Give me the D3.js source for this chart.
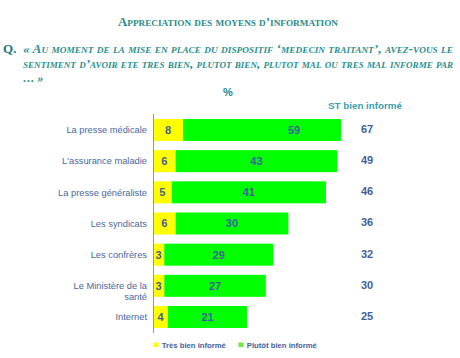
<!DOCTYPE html>
<html><head><meta charset="utf-8">
<script src="https://cdn.jsdelivr.net/npm/d3@7"></script>
<style>body{margin:0;background:#fff;}svg{display:block;}</style>
</head><body>
<script>
const categories = ["La presse médicale","L'assurance maladie","La presse généraliste","Les syndicats","Les confrères","Le Ministère de la santé","Internet"];
const tresBien = [8,6,5,6,3,3,4];
const plutotBien = [59,43,41,30,29,27,21];
const stBien = [67,49,46,36,32,30,25];
const seriesNames = ["Très bien informé","Plutôt bien informé"];
const seriesColors = ["#ffff00","#00ff00"];
const legendColors = ["#ffff00","#66ee33"];

const W=460,H=358;
const svg=d3.select("body").append("svg").attr("width",W).attr("height",H);

const teal="#2a8c8c", blue="#3f5f9c", lab="#4a679f";

// title
svg.append("text").attr("x",228).attr("y",26).attr("text-anchor","middle")
  .attr("font-family","Liberation Serif").attr("font-weight","bold").attr("font-size",12.5)
  .attr("fill",teal).style("font-variant","small-caps")
  .attr("textLength",220).attr("lengthAdjust","spacingAndGlyphs")
  .text("Appreciation des moyens d’information");

svg.append("text").attr("x",3).attr("y",53).attr("font-family","Liberation Serif").attr("font-weight","bold")
  .attr("font-size",13).attr("fill","#1f7a80").text("Q.");
const qLines=["« Au moment de la mise en place du dispositif ‘medecin traitant’, avez-vous le",
  "sentiment d’avoir ete tres bien, plutot bien, plutot mal ou tres mal informe par",
  "… »"];
qLines.forEach((s,i)=>{
  const e=svg.append("text").attr("x",23).attr("y",53+i*14.5).attr("font-family","Liberation Serif")
   .attr("font-weight","bold").attr("font-style","italic").attr("font-size",11.5).attr("fill","#2a9090")
   .style("font-variant","small-caps").text(s);
  if(i<2) e.attr("textLength",430).attr("lengthAdjust","spacingAndGlyphs");
});

svg.append("text").attr("x",228).attr("y",96).attr("text-anchor","middle").attr("font-family","Liberation Sans")
  .attr("font-weight","bold").attr("font-size",11).attr("fill","#2a7f85").text("%");
svg.append("text").attr("x",365).attr("y",108.5).attr("text-anchor","middle").attr("font-family","Liberation Sans")
  .attr("font-weight","bold").attr("font-size",9.8).attr("fill","#3aa0ae").text("ST bien informé");

const x=d3.scaleLinear().domain([0,50]).range([153,341]).clamp(true);
const xu=d3.scaleLinear().domain([0,50]).range([153,341]);
const y=d3.scaleBand().domain(categories).range([119,328]).paddingInner(0.294).paddingOuter(0);

const g=svg.append("g");
categories.forEach((c,i)=>{
  const y0=y(c), bw=y.bandwidth(), cy=y0+bw/2;
  const a=tresBien[i], b=plutotBien[i];
  g.append("rect").attr("x",x(0)).attr("y",y0).attr("width",x(a)-x(0)).attr("height",bw).attr("fill",seriesColors[0]);
  g.append("rect").attr("x",x(a)).attr("y",y0).attr("width",x(a+b)-x(a)).attr("height",bw).attr("fill",seriesColors[1]);
  g.append("text").attr("x",(xu(0)+xu(a))/2).attr("y",cy).attr("dy","0.36em").attr("text-anchor","middle")
    .attr("font-family","Liberation Sans").attr("font-weight","bold").attr("font-size",11).attr("fill",blue).text(a);
  g.append("text").attr("x",(xu(a)+xu(a+b))/2).attr("y",cy).attr("dy","0.36em").attr("text-anchor","middle")
    .attr("font-family","Liberation Sans").attr("font-weight","bold").attr("font-size",11).attr("fill",blue).text(b);
  g.append("text").attr("x",361).attr("y",cy-1).attr("dy","0.36em").attr("text-anchor","start")
    .attr("font-family","Liberation Sans").attr("font-weight","bold").attr("font-size",11).attr("fill",blue).text(stBien[i]);
  const lt=g.append("text").attr("x",147).attr("text-anchor","end").attr("font-family","Liberation Sans")
    .attr("font-size",9.3).attr("fill",lab);
  if(c==="Le Ministère de la santé"){
    lt.append("tspan").attr("x",147).attr("y",cy).attr("dy","0.35em").text("Le Ministère de la");
    lt.append("tspan").attr("x",147).attr("y",cy+10.5).attr("dy","0.35em").text("santé");
  } else {
    lt.attr("y",cy).attr("dy","0.35em").text(c);
  }
});

svg.append("line").attr("x1",153.5).attr("x2",153.5).attr("y1",114).attr("y2",333).attr("stroke","#7f97c2").attr("stroke-width",1);

// legend
const lx=[153.5,238.5];
seriesNames.forEach((n,i)=>{
  svg.append("rect").attr("x",lx[i]).attr("y",342.5).attr("width",5).attr("height",4.5).attr("fill",legendColors[i]);
  svg.append("text").attr("x",lx[i]+8.3).attr("y",345).attr("dy","0.35em").attr("font-family","Liberation Sans")
    .attr("font-weight","bold").attr("font-size",7.7).attr("fill",blue).text(n);
});
</script>
</body></html>
